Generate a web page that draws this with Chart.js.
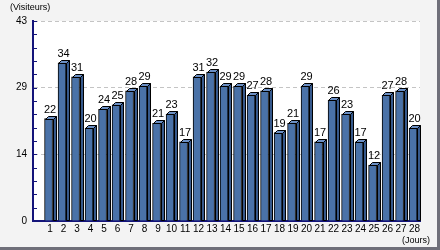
<!DOCTYPE html>
<html>
<head>
<meta charset="utf-8">
<script src="https://cdn.jsdelivr.net/npm/chart.js@4.4.1/dist/chart.umd.min.js"></script>
<style>
  html, body { margin: 0; padding: 0; background: #fff; }
  #frame {
    width: 440px; height: 250px; box-sizing: border-box;
    background: #f3f3f3;
    border-right: 3px solid #6f6f79;
    border-bottom: 3px solid #6f6f79;
  }
  canvas { display: block; }
</style>
</head>
<body>
<div id="frame"><canvas id="chart" width="437" height="247"></canvas></div>
<script>
// data
const days = [1, 2, 3, 4, 5, 6, 7, 8, 9, 10, 11, 12, 13, 14, 15, 16, 17, 18, 19, 20, 21, 22, 23, 24, 25, 26, 27, 28];
const visitors = [22, 34, 31, 20, 24, 25, 28, 29, 21, 23, 17, 31, 32, 29, 29, 27, 28, 19, 21, 29, 17, 26, 23, 17, 12, 27, 28, 20];
const yTickLabels = ['0', '14', '29', '43'];
const yMax = 43;
const minorPerMajor = 5;

const NAVY = '#14147a';
const DEPTH = 3;

Chart.defaults.font.family = '"Liberation Sans", Arial, sans-serif';
Chart.defaults.color = '#000';

// white plot background
const plotBg = {
  id: 'plotBg',
  beforeDraw(chart) {
    const { ctx, chartArea: a } = chart;
    ctx.save();
    ctx.fillStyle = '#fff';
    ctx.fillRect(a.left, a.top, a.right - a.left, a.bottom - a.top);
    ctx.restore();
  }
};

// 3D faces + value labels
const bars3d = {
  id: 'bars3d',
  afterDatasetsDraw(chart) {
    const { ctx } = chart;
    const meta = chart.getDatasetMeta(0);
    ctx.save();
    ctx.lineWidth = 1;
    ctx.strokeStyle = '#000';
    meta.data.forEach((bar, i) => {
      const l = Math.round(bar.x - bar.width / 2) + 0.5;
      const r = Math.round(bar.x + bar.width / 2) + 0.5;
      const t = Math.round(bar.y) + 0.5;
      const b = bar.base;
      // top face
      ctx.fillStyle = '#6b8fc4';
      ctx.beginPath();
      ctx.moveTo(l, t);
      ctx.lineTo(l + DEPTH, t - DEPTH);
      ctx.lineTo(r + DEPTH, t - DEPTH);
      ctx.lineTo(r, t);
      ctx.closePath();
      ctx.fill();
      ctx.stroke();
      // side face
      ctx.fillStyle = '#36598c';
      ctx.beginPath();
      ctx.moveTo(r, t);
      ctx.lineTo(r + DEPTH, t - DEPTH);
      ctx.lineTo(r + DEPTH, b);
      ctx.lineTo(r, b);
      ctx.closePath();
      ctx.fill();
      ctx.stroke();
      // value
      ctx.fillStyle = '#000';
      ctx.font = '11px "Liberation Sans", Arial, sans-serif';
      ctx.textAlign = 'center';
      ctx.textBaseline = 'alphabetic';
      ctx.fillText(String(visitors[i]), bar.x + DEPTH / 2, t - DEPTH - 4);
    });
    ctx.restore();
  }
};

// inner tick marks on y axis + unit captions
const extras = {
  id: 'extras',
  afterDraw(chart) {
    const { ctx, chartArea: a } = chart;
    const y = chart.scales.y;
    ctx.save();
    ctx.strokeStyle = NAVY;
    ctx.lineWidth = 1;
    y.ticks.forEach(tk => {
      const py = Math.round(y.getPixelForValue(tk.value)) + 0.5;
      ctx.beginPath();
      ctx.moveTo(a.left, py);
      ctx.lineTo(a.left + 4, py);
      ctx.stroke();
    });
    ctx.fillStyle = '#000';
    ctx.font = '9px "Liberation Sans", Arial, sans-serif';
    ctx.textBaseline = 'middle';
    ctx.textAlign = 'left';
    ctx.fillText('(Visiteurs)', 10, 8);
    ctx.textAlign = 'right';
    ctx.fillText('(Jours)', 430, 241);
    ctx.restore();
  }
};

new Chart(document.getElementById('chart'), {
  type: 'bar',
  data: {
    datasets: [{
      data: days.map((d, i) => ({ x: d, y: visitors[i] })),
      backgroundColor: '#4a72a8',
      borderColor: '#000',
      borderWidth: 1,
      borderSkipped: 'bottom',
      barThickness: 8,
      clip: 12
    }]
  },
  options: {
    responsive: false,
    animation: false,
    events: [],
    layout: { padding: { left: 0, right: 17, top: 21, bottom: 0 } },
    plugins: { legend: { display: false }, tooltip: { enabled: false } },
    scales: {
      x: {
        type: 'linear',
        min: 0.36,
        max: 28,
        afterBuildTicks: s => { s.ticks = days.map(v => ({ value: v })); },
        afterFit: s => { s.height = 26; },
        grid: { display: false, drawTicks: false },
        border: { color: NAVY, width: 2 },
        ticks: {
          padding: 2,
          labelOffset: 1.5,
          maxRotation: 0,
          autoSkip: false,
          font: { size: 10 },
          callback: v => String(v)
        }
      },
      y: {
        min: 0,
        max: yMax,
        afterBuildTicks: s => {
          const n = (yTickLabels.length - 1) * minorPerMajor;
          s.ticks = Array.from({ length: n + 1 }, (_, i) => ({ value: yMax * i / n }));
        },
        afterFit: s => { s.width = 33; },
        grid: {
          drawTicks: false,
          color: c => (c.index % minorPerMajor === 0 ? '#c4c4c4' : 'rgba(0,0,0,0)')
        },
        border: { color: NAVY, width: 2, dash: [4, 3] },
        ticks: {
          padding: 6,
          autoSkip: false,
          font: { size: 10 },
          callback: (v, i) => (i % minorPerMajor === 0 ? yTickLabels[i / minorPerMajor] : '')
        }
      }
    }
  },
  plugins: [plotBg, bars3d, extras]
});
</script>
</body>
</html>
